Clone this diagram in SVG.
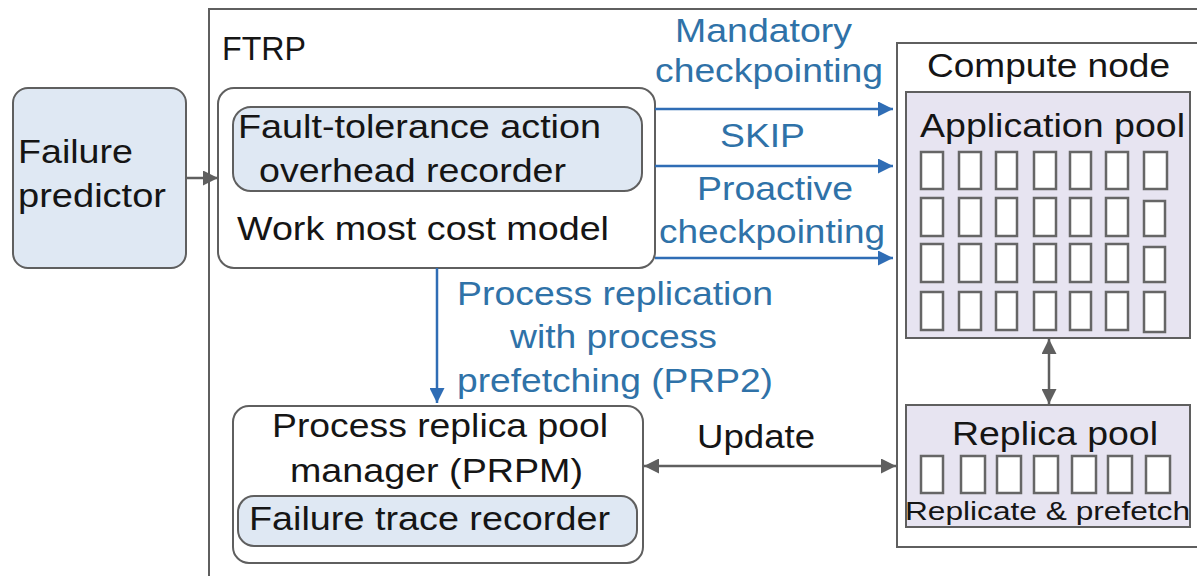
<svg xmlns="http://www.w3.org/2000/svg" width="1197" height="576" viewBox="0 0 1197 576">
<style>
.box{stroke:#5f5f5f;stroke-width:2;}
.t{font-family:"Liberation Sans",Arial,sans-serif;font-size:34px;fill:#151515;}
.b{font-family:"Liberation Sans",Arial,sans-serif;font-size:34px;fill:#2f72a8;}
.cell{fill:#ffffff;stroke:#666;stroke-width:2.5;}
.g{stroke:#5f5f5f;stroke-width:2.5;fill:none;}
.bl{stroke:#2f6db5;stroke-width:2.5;fill:none;}
</style>
<defs>
<marker id="ag" viewBox="0 0 10 10" refX="10" refY="5" markerWidth="6" markerHeight="6" orient="auto-start-reverse" markerUnits="strokeWidth"><path d="M0,0 L10,5 L0,10 Z" fill="#5f5f5f"/></marker>
<marker id="ab" viewBox="0 0 10 10" refX="10" refY="5" markerWidth="6" markerHeight="6" orient="auto-start-reverse" markerUnits="strokeWidth"><path d="M0,0 L10,5 L0,10 Z" fill="#2f6db5"/></marker>
</defs>
<rect width="1197" height="576" fill="#ffffff"/>
<g id="ftrp">
<rect class="box" x="209" y="9" width="1010" height="600" fill="none"/>
<text class="t" x="222" y="60" textLength="84" lengthAdjust="spacingAndGlyphs">FTRP</text>
</g>
<g id="failure-predictor">
<rect class="box" x="13" y="88" width="173" height="180" rx="15" fill="#dfe8f3"/>
<text class="t" x="18" y="163" textLength="115" lengthAdjust="spacingAndGlyphs">Failure</text>
<text class="t" x="18" y="207" textLength="148" lengthAdjust="spacingAndGlyphs">predictor</text>
</g>
<g id="cost-model">
<rect class="box" x="218" y="88" width="437" height="180" rx="16" fill="#ffffff"/>
<rect class="box" x="233" y="107" width="409" height="84" rx="18" fill="#dfe8f3"/>
<text class="t" x="238" y="138" textLength="363" lengthAdjust="spacingAndGlyphs">Fault-tolerance action</text>
<text class="t" x="259" y="182" textLength="307" lengthAdjust="spacingAndGlyphs">overhead recorder</text>
<text class="t" x="237" y="240" textLength="372" lengthAdjust="spacingAndGlyphs">Work most cost model</text>
</g>
<g id="prpm">
<rect class="box" x="233" y="406" width="410" height="157" rx="16" fill="#ffffff"/>
<text class="t" x="272" y="437" textLength="336" lengthAdjust="spacingAndGlyphs">Process replica pool</text>
<text class="t" x="290" y="482" textLength="293" lengthAdjust="spacingAndGlyphs">manager (PRPM)</text>
<rect class="box" x="238" y="496" width="399" height="50" rx="16" fill="#dfe8f3"/>
<text class="t" x="249" y="530" textLength="361" lengthAdjust="spacingAndGlyphs">Failure trace recorder</text>
</g>
<g id="compute-node">
<rect class="box" x="897" y="43" width="320" height="504" fill="#ffffff"/>
<text class="t" x="927" y="77" textLength="243" lengthAdjust="spacingAndGlyphs">Compute node</text>
</g>
<g id="application-pool">
<rect class="box" x="906" y="92" width="284" height="246" fill="#e7e4f1"/>
<text class="t" x="920" y="137" textLength="265" lengthAdjust="spacingAndGlyphs">Application pool</text>
<g>
<rect class="cell" x="921" y="152" width="22" height="37"/><rect class="cell" x="959" y="152" width="22" height="37"/><rect class="cell" x="996" y="152" width="21" height="37"/><rect class="cell" x="1034" y="152" width="22" height="37"/><rect class="cell" x="1070" y="152" width="21" height="37"/><rect class="cell" x="1106" y="152" width="22" height="37"/><rect class="cell" x="1144" y="152" width="23" height="37"/>
<rect class="cell" x="921" y="198" width="22" height="38"/><rect class="cell" x="959" y="198" width="22" height="38"/><rect class="cell" x="996" y="198" width="21" height="38"/><rect class="cell" x="1034" y="198" width="22" height="38"/><rect class="cell" x="1070" y="198" width="21" height="38"/><rect class="cell" x="1106" y="198" width="22" height="38"/><rect class="cell" x="1144" y="201" width="21" height="35"/>
<rect class="cell" x="921" y="244" width="22" height="38"/><rect class="cell" x="959" y="244" width="22" height="38"/><rect class="cell" x="996" y="244" width="21" height="38"/><rect class="cell" x="1034" y="244" width="22" height="38"/><rect class="cell" x="1070" y="244" width="21" height="38"/><rect class="cell" x="1106" y="244" width="22" height="38"/><rect class="cell" x="1144" y="247" width="21" height="35"/>
<rect class="cell" x="921" y="292" width="22" height="38"/><rect class="cell" x="959" y="292" width="22" height="38"/><rect class="cell" x="996" y="292" width="21" height="38"/><rect class="cell" x="1034" y="292" width="22" height="38"/><rect class="cell" x="1070" y="292" width="21" height="38"/><rect class="cell" x="1106" y="292" width="22" height="38"/><rect class="cell" x="1144" y="292" width="21" height="40"/>
</g>
</g>
<g id="replica-pool">
<rect class="box" x="906" y="405" width="284" height="122" fill="#e7e4f1"/>
<text class="t" x="952" y="445" textLength="206" lengthAdjust="spacingAndGlyphs">Replica pool</text>
<rect class="cell" x="921" y="456" width="22" height="37"/><rect class="cell" x="961" y="456" width="24" height="37"/><rect class="cell" x="997" y="456" width="24" height="37"/><rect class="cell" x="1034" y="456" width="24" height="37"/><rect class="cell" x="1072" y="456" width="24" height="37"/><rect class="cell" x="1108" y="456" width="24" height="37"/><rect class="cell" x="1146" y="456" width="24" height="37"/>
<text class="t" x="905" y="520" style="font-size:25px" textLength="285" lengthAdjust="spacingAndGlyphs">Replicate &amp; prefetch</text>
</g>
<g id="connectors">
<line class="g" x1="186" y1="178" x2="218" y2="178" marker-end="url(#ag)"/>
<line class="bl" x1="655" y1="109" x2="893" y2="109" marker-end="url(#ab)"/>
<line class="bl" x1="655" y1="166" x2="893" y2="166" marker-end="url(#ab)"/>
<line class="bl" x1="655" y1="258" x2="893" y2="258" marker-end="url(#ab)"/>
<line class="bl" x1="437" y1="268" x2="437" y2="403" marker-end="url(#ab)"/>
<line class="g" x1="644" y1="466" x2="896" y2="466" marker-start="url(#ag)" marker-end="url(#ag)"/>
<line class="g" x1="1049" y1="339" x2="1049" y2="404" marker-start="url(#ag)" marker-end="url(#ag)"/>
<text class="b" x="675" y="42" textLength="177" lengthAdjust="spacingAndGlyphs">Mandatory</text>
<text class="b" x="655" y="82" textLength="228" lengthAdjust="spacingAndGlyphs">checkpointing</text>
<text class="b" x="720" y="147" textLength="85" lengthAdjust="spacingAndGlyphs">SKIP</text>
<text class="b" x="697" y="200" textLength="156" lengthAdjust="spacingAndGlyphs">Proactive</text>
<text class="b" x="659" y="243" textLength="226" lengthAdjust="spacingAndGlyphs">checkpointing</text>
<text class="b" x="457" y="305" textLength="316" lengthAdjust="spacingAndGlyphs">Process replication</text>
<text class="b" x="510" y="348" textLength="207" lengthAdjust="spacingAndGlyphs">with process</text>
<text class="b" x="457" y="392" textLength="316" lengthAdjust="spacingAndGlyphs">prefetching (PRP2)</text>
<text class="t" x="697" y="448" textLength="118" lengthAdjust="spacingAndGlyphs">Update</text>
</g>
</svg>
